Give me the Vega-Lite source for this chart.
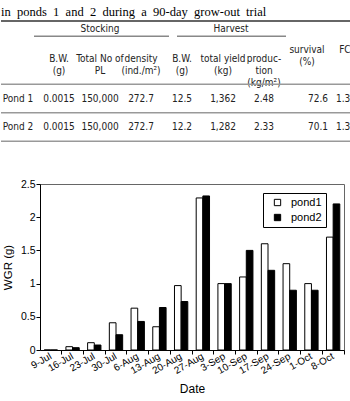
{
  "$schema": "https://vega.github.io/schema/vega-lite/v6.json",
  "padding": 0,
  "spacing": 18,
  "config": {
    "font": "Liberation Sans",
    "view": {"stroke": "#666", "strokeWidth": 1},
    "axis": {"labelColor": "black", "titleColor": "black", "domainColor": "black", "tickColor": "black", "titleFontWeight": "normal", "grid": false, "labelFont": "Liberation Sans", "titleFont": "Liberation Sans"}
  },
  "datasets": {
    "cells": [
      {"part": "caption", "row": "caption", "col": "label", "text": "in\u00a0\u00a0ponds\u00a0\u00a01\u00a0\u00a0and\u00a0\u00a02\u00a0\u00a0during\u00a0\u00a0a\u00a0\u00a090-day\u00a0\u00a0grow-out\u00a0\u00a0trial"},
      {"part": "group", "row": "group", "col": "pl", "text": "Stocking"},
      {"part": "group2", "row": "group", "col": "yield", "text": "Harvest"},
      {"part": "head", "row": "subhead", "col": "bw", "text": "B.W.\n(g)"},
      {"part": "head", "row": "subhead", "col": "pl", "text": "Total No of\nPL"},
      {"part": "head", "row": "subhead", "col": "density", "text": "density\n(ind./m²)"},
      {"part": "head", "row": "subhead", "col": "hbw", "text": "B.W.\n(g)"},
      {"part": "head", "row": "subhead", "col": "yield", "text": "total yield\n(kg)"},
      {"part": "head", "row": "subhead", "col": "prod", "text": "produc-\ntion\n(kg/m²)"},
      {"part": "head2", "row": "subhead", "col": "surv", "text": "survival\n(%)"},
      {"part": "head2", "row": "subhead", "col": "fcr", "text": "FCR"},
      {"part": "body", "row": "pond 1", "col": "label", "text": "Pond 1"},
      {"part": "body", "row": "pond 1", "col": "bw", "text": "0.0015"},
      {"part": "body", "row": "pond 1", "col": "pl", "text": "150,000"},
      {"part": "body", "row": "pond 1", "col": "density", "text": "272.7"},
      {"part": "body", "row": "pond 1", "col": "hbw", "text": "12.5"},
      {"part": "body", "row": "pond 1", "col": "yield", "text": "1,362"},
      {"part": "body", "row": "pond 1", "col": "prod", "text": "2.48"},
      {"part": "bodysurv", "row": "pond 1", "col": "surv", "text": "72.6"},
      {"part": "body", "row": "pond 1", "col": "fcr", "text": "1.39"},
      {"part": "body", "row": "pond 2", "col": "label", "text": "Pond 2"},
      {"part": "body", "row": "pond 2", "col": "bw", "text": "0.0015"},
      {"part": "body", "row": "pond 2", "col": "pl", "text": "150,000"},
      {"part": "body", "row": "pond 2", "col": "density", "text": "272.7"},
      {"part": "body", "row": "pond 2", "col": "hbw", "text": "12.2"},
      {"part": "body", "row": "pond 2", "col": "yield", "text": "1,282"},
      {"part": "body", "row": "pond 2", "col": "prod", "text": "2.33"},
      {"part": "bodysurv", "row": "pond 2", "col": "surv", "text": "70.1"},
      {"part": "body", "row": "pond 2", "col": "fcr", "text": "1.38"}
    ],
    "rules": [
      {"kind": "top", "row": "caption", "from": "label", "to": "fcr"},
      {"kind": "grey", "row": "header-rule", "from": "label", "to": "fcr"},
      {"kind": "grey", "row": "pond-rule", "from": "label", "to": "fcr"},
      {"kind": "grey", "row": "bottom-rule", "from": "label", "to": "fcr"},
      {"kind": "stock", "row": "group", "from": "bw", "to": "density"},
      {"kind": "harv", "row": "group", "from": "hbw", "to": "prod"}
    ],
    "wgr": [
      {"date": "9-Jul", "pond": "pond1", "wgr": 0},
      {"date": "16-Jul", "pond": "pond1", "wgr": 0.05},
      {"date": "23-Jul", "pond": "pond1", "wgr": 0.11},
      {"date": "30-Jul", "pond": "pond1", "wgr": 0.41},
      {"date": "6-Aug", "pond": "pond1", "wgr": 0.63},
      {"date": "13-Aug", "pond": "pond1", "wgr": 0.35},
      {"date": "20-Aug", "pond": "pond1", "wgr": 0.97},
      {"date": "27-Aug", "pond": "pond1", "wgr": 2.29},
      {"date": "3-Sep", "pond": "pond1", "wgr": 1.0},
      {"date": "10-Sep", "pond": "pond1", "wgr": 1.1},
      {"date": "17-Sep", "pond": "pond1", "wgr": 1.6},
      {"date": "24-Sep", "pond": "pond1", "wgr": 1.3},
      {"date": "1-Oct", "pond": "pond1", "wgr": 1.0},
      {"date": "8-Oct", "pond": "pond1", "wgr": 1.7},
      {"date": "9-Jul", "pond": "pond2", "wgr": 0},
      {"date": "16-Jul", "pond": "pond2", "wgr": 0.035},
      {"date": "23-Jul", "pond": "pond2", "wgr": 0.075},
      {"date": "30-Jul", "pond": "pond2", "wgr": 0.23},
      {"date": "6-Aug", "pond": "pond2", "wgr": 0.43},
      {"date": "13-Aug", "pond": "pond2", "wgr": 0.64},
      {"date": "20-Aug", "pond": "pond2", "wgr": 0.73},
      {"date": "27-Aug", "pond": "pond2", "wgr": 2.32},
      {"date": "3-Sep", "pond": "pond2", "wgr": 1.0},
      {"date": "10-Sep", "pond": "pond2", "wgr": 1.5},
      {"date": "17-Sep", "pond": "pond2", "wgr": 1.2},
      {"date": "24-Sep", "pond": "pond2", "wgr": 0.9},
      {"date": "1-Oct", "pond": "pond2", "wgr": 0.9},
      {"date": "8-Oct", "pond": "pond2", "wgr": 2.2}
    ]
  },
  "vconcat": [
    {
      "width": 304,
      "height": 160,
      "view": {"stroke": null},
      "layer": [
        {
          "data": {"name": "cells"},
          "transform": [{"filter": "datum.part == 'caption'"}],
          "mark": {"type": "text", "align": "left", "baseline": "alphabetic", "font": "Liberation Serif", "fontSize": 12.5, "dx": -17, "dy": 3, "color": "black"},
          "encoding": {
            "x": {"field": "col", "type": "nominal", "scale": {"type": "point", "domain": ["label", "bw", "pl", "density", "hbw", "yield", "prod", "surv", "fcr"], "range": [-22, 306], "padding": 0}, "axis": null},
            "y": {"field": "row", "type": "nominal", "scale": {"type": "point", "domain": ["caption", "group", "subhead-top", "subhead", "subhead-bottom", "header-rule", "pond 1", "pond-rule", "pond 2", "bottom-rule"], "range": [13, 141.25], "padding": 0}, "axis": null},
            "text": {"field": "text"}
          }
        },
        {
          "data": {"name": "cells"},
          "transform": [{"filter": "datum.part == 'group'"}],
          "mark": {"type": "text", "align": "center", "baseline": "middle", "font": "DejaVu Sans Condensed, Liberation Sans", "fontSize": 10, "dy": 2, "color": "#222"},
          "encoding": {
            "x": {"field": "col", "type": "nominal", "scale": {"type": "point", "domain": ["label", "bw", "pl", "density", "hbw", "yield", "prod", "surv", "fcr"], "range": [-22, 306], "padding": 0}, "axis": null},
            "y": {"field": "row", "type": "nominal", "scale": {"type": "point", "domain": ["caption", "group", "subhead-top", "subhead", "subhead-bottom", "header-rule", "pond 1", "pond-rule", "pond 2", "bottom-rule"], "range": [13, 141.25], "padding": 0}, "axis": null},
            "text": {"field": "text"}
          }
        },
        {
          "data": {"name": "cells"},
          "transform": [{"filter": "datum.part == 'group2'"}],
          "mark": {"type": "text", "align": "center", "baseline": "middle", "font": "DejaVu Sans Condensed, Liberation Sans", "fontSize": 10, "dy": 2, "dx": 8, "color": "#222"},
          "encoding": {
            "x": {"field": "col", "type": "nominal", "scale": {"type": "point", "domain": ["label", "bw", "pl", "density", "hbw", "yield", "prod", "surv", "fcr"], "range": [-22, 306], "padding": 0}, "axis": null},
            "y": {"field": "row", "type": "nominal", "scale": {"type": "point", "domain": ["caption", "group", "subhead-top", "subhead", "subhead-bottom", "header-rule", "pond 1", "pond-rule", "pond 2", "bottom-rule"], "range": [13, 141.25], "padding": 0}, "axis": null},
            "text": {"field": "text"}
          }
        },
        {
          "data": {"name": "cells"},
          "transform": [{"filter": "datum.part == 'head'"}],
          "mark": {"type": "text", "align": "center", "baseline": "middle", "lineBreak": "\n", "lineHeight": 12, "font": "DejaVu Sans Condensed, Liberation Sans", "fontSize": 10, "dy": 3, "color": "#222"},
          "encoding": {
            "x": {"field": "col", "type": "nominal", "scale": {"type": "point", "domain": ["label", "bw", "pl", "density", "hbw", "yield", "prod", "surv", "fcr"], "range": [-22, 306], "padding": 0}, "axis": null},
            "y": {"field": "row", "type": "nominal", "scale": {"type": "point", "domain": ["caption", "group", "subhead-top", "subhead", "subhead-bottom", "header-rule", "pond 1", "pond-rule", "pond 2", "bottom-rule"], "range": [13, 141.25], "padding": 0}, "axis": null},
            "text": {"field": "text"}
          }
        },
        {
          "data": {"name": "cells"},
          "transform": [{"filter": "datum.part == 'head2'"}],
          "mark": {"type": "text", "align": "center", "baseline": "middle", "lineBreak": "\n", "lineHeight": 12, "font": "DejaVu Sans Condensed, Liberation Sans", "fontSize": 10, "dy": -6, "dx": 2, "color": "#222"},
          "encoding": {
            "x": {"field": "col", "type": "nominal", "scale": {"type": "point", "domain": ["label", "bw", "pl", "density", "hbw", "yield", "prod", "surv", "fcr"], "range": [-22, 306], "padding": 0}, "axis": null},
            "y": {"field": "row", "type": "nominal", "scale": {"type": "point", "domain": ["caption", "group", "subhead-top", "subhead", "subhead-bottom", "header-rule", "pond 1", "pond-rule", "pond 2", "bottom-rule"], "range": [13, 141.25], "padding": 0}, "axis": null},
            "text": {"field": "text"}
          }
        },
        {
          "data": {"name": "cells"},
          "transform": [{"filter": "datum.part == 'body'"}],
          "mark": {"type": "text", "align": "center", "baseline": "middle", "font": "DejaVu Sans Condensed, Liberation Sans", "fontSize": 10, "color": "#222"},
          "encoding": {
            "x": {"field": "col", "type": "nominal", "scale": {"type": "point", "domain": ["label", "bw", "pl", "density", "hbw", "yield", "prod", "surv", "fcr"], "range": [-22, 306], "padding": 0}, "axis": null},
            "y": {"field": "row", "type": "nominal", "scale": {"type": "point", "domain": ["caption", "group", "subhead-top", "subhead", "subhead-bottom", "header-rule", "pond 1", "pond-rule", "pond 2", "bottom-rule"], "range": [13, 141.25], "padding": 0}, "axis": null},
            "text": {"field": "text"}
          }
        },
        {
          "data": {"name": "cells"},
          "transform": [{"filter": "datum.part == 'bodysurv'"}],
          "mark": {"type": "text", "align": "center", "baseline": "middle", "font": "DejaVu Sans Condensed, Liberation Sans", "fontSize": 10, "dx": 13, "color": "#222"},
          "encoding": {
            "x": {"field": "col", "type": "nominal", "scale": {"type": "point", "domain": ["label", "bw", "pl", "density", "hbw", "yield", "prod", "surv", "fcr"], "range": [-22, 306], "padding": 0}, "axis": null},
            "y": {"field": "row", "type": "nominal", "scale": {"type": "point", "domain": ["caption", "group", "subhead-top", "subhead", "subhead-bottom", "header-rule", "pond 1", "pond-rule", "pond 2", "bottom-rule"], "range": [13, 141.25], "padding": 0}, "axis": null},
            "text": {"field": "text"}
          }
        },
        {
          "data": {"name": "rules"},
          "transform": [{"filter": "datum.kind == 'top'"}],
          "mark": {"type": "rule", "color": "#333", "strokeWidth": 1.5, "xOffset": -17, "x2Offset": 5, "yOffset": 8},
          "encoding": {
            "x": {"field": "from", "type": "nominal", "scale": {"type": "point", "domain": ["label", "bw", "pl", "density", "hbw", "yield", "prod", "surv", "fcr"], "range": [-22, 306], "padding": 0}, "axis": null},
            "x2": {"field": "to"},
            "y": {"field": "row", "type": "nominal", "scale": {"type": "point", "domain": ["caption", "group", "subhead-top", "subhead", "subhead-bottom", "header-rule", "pond 1", "pond-rule", "pond 2", "bottom-rule"], "range": [13, 141.25], "padding": 0}, "axis": null}
          }
        },
        {
          "data": {"name": "rules"},
          "transform": [{"filter": "datum.kind == 'grey'"}],
          "mark": {"type": "rule", "color": "#999", "strokeWidth": 1.5, "xOffset": -17, "x2Offset": 5},
          "encoding": {
            "x": {"field": "from", "type": "nominal", "scale": {"type": "point", "domain": ["label", "bw", "pl", "density", "hbw", "yield", "prod", "surv", "fcr"], "range": [-22, 306], "padding": 0}, "axis": null},
            "x2": {"field": "to"},
            "y": {"field": "row", "type": "nominal", "scale": {"type": "point", "domain": ["caption", "group", "subhead-top", "subhead", "subhead-bottom", "header-rule", "pond 1", "pond-rule", "pond 2", "bottom-rule"], "range": [13, 141.25], "padding": 0}, "axis": null}
          }
        },
        {
          "data": {"name": "rules"},
          "transform": [{"filter": "datum.kind == 'stock'"}],
          "mark": {"type": "rule", "color": "#888", "strokeWidth": 1.5, "xOffset": -25, "x2Offset": 28, "yOffset": 9},
          "encoding": {
            "x": {"field": "from", "type": "nominal", "scale": {"type": "point", "domain": ["label", "bw", "pl", "density", "hbw", "yield", "prod", "surv", "fcr"], "range": [-22, 306], "padding": 0}, "axis": null},
            "x2": {"field": "to"},
            "y": {"field": "row", "type": "nominal", "scale": {"type": "point", "domain": ["caption", "group", "subhead-top", "subhead", "subhead-bottom", "header-rule", "pond 1", "pond-rule", "pond 2", "bottom-rule"], "range": [13, 141.25], "padding": 0}, "axis": null}
          }
        },
        {
          "data": {"name": "rules"},
          "transform": [{"filter": "datum.kind == 'harv'"}],
          "mark": {"type": "rule", "color": "#888", "strokeWidth": 1.5, "xOffset": -5, "x2Offset": 22, "yOffset": 9},
          "encoding": {
            "x": {"field": "from", "type": "nominal", "scale": {"type": "point", "domain": ["label", "bw", "pl", "density", "hbw", "yield", "prod", "surv", "fcr"], "range": [-22, 306], "padding": 0}, "axis": null},
            "x2": {"field": "to"},
            "y": {"field": "row", "type": "nominal", "scale": {"type": "point", "domain": ["caption", "group", "subhead-top", "subhead", "subhead-bottom", "header-rule", "pond 1", "pond-rule", "pond 2", "bottom-rule"], "range": [13, 141.25], "padding": 0}, "axis": null}
          }
        }
      ]
    },
    {
      "width": 304,
      "height": 166,
      "data": {"name": "wgr"},
      "mark": {"type": "bar", "stroke": "black", "strokeWidth": 1},
      "encoding": {
        "x": {
          "field": "date", "type": "nominal", "title": "Date",
          "scale": {"domain": ["9-Jul", "16-Jul", "23-Jul", "30-Jul", "6-Aug", "13-Aug", "20-Aug", "27-Aug", "3-Sep", "10-Sep", "17-Sep", "24-Sep", "1-Oct", "8-Oct"], "paddingInner": 0, "paddingOuter": 0},
          "axis": {"bandPosition": 1, "labelAngle": -30, "labelAlign": "right", "labelBaseline": "middle", "labelFontSize": 10, "labelPadding": 1, "tickSize": 4, "titleFontSize": 12, "titlePadding": 8}
        },
        "xOffset": {"field": "pond", "type": "nominal", "scale": {"domain": ["pond1", "pond2"], "paddingInner": 0, "paddingOuter": 0.63}},
        "y": {
          "field": "wgr", "type": "quantitative", "title": "WGR (g)",
          "scale": {"domain": [0, 2.5]},
          "axis": {"values": [0, 0.5, 1, 1.5, 2, 2.5], "format": "~g", "labelFontSize": 10.5, "labelPadding": 1, "tickSize": 4, "titleFontSize": 11.5, "titlePadding": 3, "minExtent": 24, "maxExtent": 24}
        },
        "fill": {
          "field": "pond", "type": "nominal",
          "scale": {"domain": ["pond1", "pond2"], "range": ["white", "black"]},
          "legend": {"orient": "none", "legendX": 223, "legendY": 193, "title": null, "strokeColor": "black", "fillColor": "white", "padding": 4, "symbolType": "square", "symbolSize": 40, "symbolStrokeColor": "black", "symbolStrokeWidth": 1, "symbolOffset": 5, "labelOffset": 8, "labelFontSize": 11, "labelColor": "black", "rowPadding": 3}
        }
      }
    }
  ]
}
